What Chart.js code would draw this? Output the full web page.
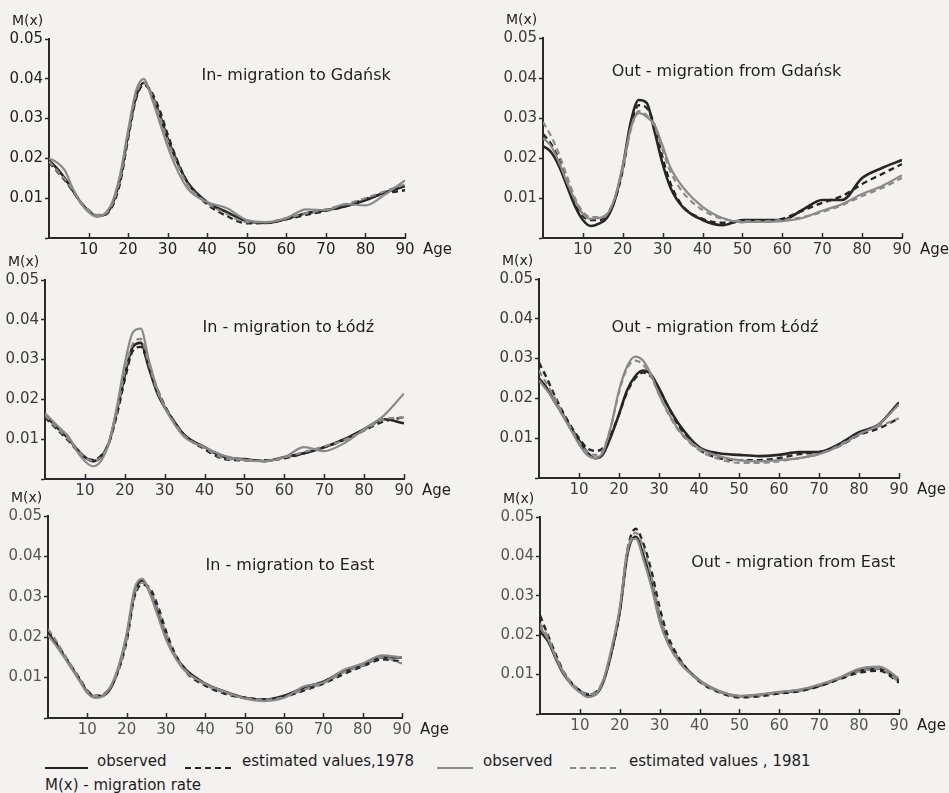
<!DOCTYPE html>
<html>
<head>
<meta charset="utf-8">
<script src="https://cdn.jsdelivr.net/npm/chart.js@4.4.1/dist/chart.umd.min.js"></script>
<style>
body { margin:0; width:949px; height:793px; background:#f3f2ee; overflow:hidden; position:relative; font-family:"DejaVu Sans", sans-serif; color:#1e1e1e; }
canvas { position:absolute; }
.leg { position:absolute; font-size:15px; line-height:18px; white-space:nowrap; }
.ln { position:absolute; height:2px; }
</style>
</head>
<body>

<div class="ln" style="left:45px;top:767px;width:43px;background:#262626"></div>
<div class="leg" style="left:97px;top:752px">observed</div>
<div class="ln" style="left:185px;top:767px;width:50px;background:repeating-linear-gradient(90deg,#262626 0 6px,transparent 6px 10px)"></div>
<div class="leg" style="left:242px;top:752px">estimated values,1978</div>
<div class="ln" style="left:437px;top:767px;width:36px;background:#8a8a8a"></div>
<div class="leg" style="left:483px;top:752px">observed</div>
<div class="ln" style="left:570px;top:767px;width:48px;background:repeating-linear-gradient(90deg,#8a8a8a 0 6px,transparent 6px 10px)"></div>
<div class="leg" style="left:629px;top:752px">estimated values , 1981</div>
<div class="leg" style="left:45px;top:776px">M(x) - migration rate</div>

<script>
// age groups (x) shared by all panels
const ages = [0, 2, 4, 6, 8, 10, 12, 14, 16, 18, 20, 22, 24, 26, 28, 30, 32, 35, 40, 45, 50, 55, 60, 65, 70, 75, 80, 85, 90];
const xTicks = [10, 20, 30, 40, 50, 60, 70, 80, 90];
const yTicks = [0.01, 0.02, 0.03, 0.04, 0.05];
const seriesNames = ["observed 1978", "estimated values 1978", "observed 1981", "estimated values 1981"];

// In-migration to Gdańsk
const gdInObs78 = [0.0195,0.0175,0.0150,0.0120,0.0090,0.0068,0.0055,0.0058,0.0085,0.0150,0.0260,0.0355,0.0390,0.0360,0.0310,0.0250,0.0200,0.0140,0.0090,0.0065,0.0042,0.0038,0.0048,0.0062,0.0070,0.0080,0.0095,0.0115,0.0130];
const gdInEst78 = [0.0190,0.0168,0.0145,0.0118,0.0090,0.0070,0.0057,0.0058,0.0080,0.0140,0.0250,0.0350,0.0385,0.0365,0.0320,0.0260,0.0205,0.0140,0.0085,0.0055,0.0037,0.0038,0.0047,0.0058,0.0068,0.0080,0.0098,0.0112,0.0120];
const gdInObs81 = [0.0200,0.0190,0.0170,0.0125,0.0088,0.0065,0.0054,0.0060,0.0090,0.0160,0.0270,0.0370,0.0400,0.0350,0.0290,0.0230,0.0180,0.0125,0.0090,0.0075,0.0045,0.0040,0.0050,0.0072,0.0070,0.0085,0.0082,0.0110,0.0145];
const gdInEst81 = [0.0192,0.0170,0.0148,0.0120,0.0092,0.0070,0.0058,0.0060,0.0085,0.0150,0.0260,0.0360,0.0390,0.0360,0.0305,0.0245,0.0195,0.0135,0.0088,0.0060,0.0040,0.0040,0.0050,0.0062,0.0072,0.0085,0.0100,0.0118,0.0135];

// Out-migration from Gdańsk
const gdOutObs78 = [0.0230,0.0215,0.0180,0.0130,0.0080,0.0045,0.0030,0.0036,0.0050,0.0094,0.0178,0.0290,0.0345,0.0338,0.0265,0.0185,0.0125,0.0078,0.0045,0.0032,0.0045,0.0045,0.0045,0.0070,0.0095,0.0095,0.0150,0.0175,0.0195];
const gdOutEst78 = [0.0260,0.0235,0.0195,0.0140,0.0090,0.0055,0.0045,0.0045,0.0055,0.0095,0.0170,0.0280,0.0332,0.0325,0.0280,0.0200,0.0135,0.0080,0.0048,0.0038,0.0040,0.0042,0.0048,0.0068,0.0088,0.0105,0.0135,0.0160,0.0185];
const gdOutObs81 = [0.0250,0.0230,0.0190,0.0140,0.0095,0.0060,0.0048,0.0050,0.0058,0.0100,0.0180,0.0275,0.0312,0.0303,0.0282,0.0230,0.0175,0.0128,0.0078,0.0050,0.0040,0.0040,0.0042,0.0050,0.0068,0.0085,0.0110,0.0130,0.0157];
const gdOutEst81 = [0.0290,0.0255,0.0210,0.0155,0.0100,0.0065,0.0052,0.0052,0.0060,0.0100,0.0175,0.0270,0.0317,0.0307,0.0278,0.0220,0.0165,0.0115,0.0070,0.0048,0.0042,0.0042,0.0045,0.0052,0.0065,0.0082,0.0105,0.0125,0.0150];

// In-migration to Łódź
const ldInObs78 = [0.0160,0.0140,0.0120,0.0100,0.0075,0.0055,0.0045,0.0055,0.0090,0.0170,0.0260,0.0332,0.0342,0.0280,0.0220,0.0180,0.0150,0.0110,0.0080,0.0055,0.0050,0.0045,0.0055,0.0065,0.0080,0.0100,0.0125,0.0150,0.0140];
const ldInEst78 = [0.0155,0.0135,0.0115,0.0095,0.0072,0.0055,0.0048,0.0058,0.0090,0.0160,0.0250,0.0322,0.0332,0.0285,0.0230,0.0185,0.0150,0.0110,0.0075,0.0050,0.0047,0.0047,0.0052,0.0065,0.0080,0.0098,0.0122,0.0145,0.0155];
const ldInObs81 = [0.0165,0.0145,0.0125,0.0105,0.0070,0.0045,0.0032,0.0045,0.0090,0.0180,0.0290,0.0368,0.0378,0.0300,0.0230,0.0180,0.0145,0.0105,0.0080,0.0058,0.0048,0.0045,0.0055,0.0080,0.0070,0.0090,0.0125,0.0160,0.0215];
const ldInEst81 = [0.0160,0.0138,0.0118,0.0098,0.0074,0.0055,0.0045,0.0055,0.0090,0.0170,0.0270,0.0340,0.0352,0.0290,0.0225,0.0182,0.0148,0.0108,0.0078,0.0052,0.0048,0.0046,0.0054,0.0068,0.0082,0.0098,0.0122,0.0150,0.0155];

// Out-migration from Łódź
const ldOutObs78 = [0.0250,0.0225,0.0190,0.0160,0.0125,0.0095,0.0065,0.0050,0.0060,0.0105,0.0160,0.0220,0.0255,0.0270,0.0260,0.0225,0.0185,0.0135,0.0078,0.0062,0.0058,0.0055,0.0058,0.0065,0.0065,0.0085,0.0115,0.0135,0.0190];
const ldOutEst78 = [0.0290,0.0250,0.0205,0.0165,0.0130,0.0100,0.0075,0.0068,0.0075,0.0110,0.0160,0.0215,0.0250,0.0265,0.0255,0.0225,0.0185,0.0130,0.0072,0.0050,0.0045,0.0045,0.0050,0.0060,0.0065,0.0080,0.0108,0.0125,0.0150];
const ldOutObs81 = [0.0245,0.0220,0.0190,0.0155,0.0120,0.0085,0.0058,0.0050,0.0065,0.0130,0.0220,0.0280,0.0305,0.0295,0.0260,0.0210,0.0170,0.0120,0.0075,0.0055,0.0045,0.0042,0.0045,0.0050,0.0060,0.0080,0.0110,0.0135,0.0185];
const ldOutEst81 = [0.0270,0.0235,0.0200,0.0160,0.0125,0.0090,0.0065,0.0058,0.0070,0.0130,0.0215,0.0275,0.0295,0.0285,0.0255,0.0210,0.0168,0.0118,0.0070,0.0048,0.0038,0.0038,0.0042,0.0050,0.0060,0.0082,0.0110,0.0130,0.0150];

// In-migration to East
const eaInObs78 = [0.0210,0.0185,0.0155,0.0125,0.0095,0.0065,0.0052,0.0055,0.0075,0.0125,0.0200,0.0310,0.0340,0.0310,0.0260,0.0200,0.0160,0.0120,0.0085,0.0065,0.0050,0.0045,0.0055,0.0075,0.0090,0.0115,0.0130,0.0150,0.0150];
const eaInEst78 = [0.0215,0.0188,0.0158,0.0128,0.0098,0.0068,0.0055,0.0058,0.0078,0.0120,0.0190,0.0300,0.0330,0.0320,0.0275,0.0215,0.0165,0.0115,0.0080,0.0060,0.0050,0.0046,0.0052,0.0068,0.0085,0.0108,0.0128,0.0145,0.0140];
const eaInObs81 = [0.0205,0.0180,0.0152,0.0122,0.0092,0.0062,0.0050,0.0055,0.0080,0.0130,0.0210,0.0320,0.0345,0.0305,0.0250,0.0195,0.0155,0.0115,0.0085,0.0065,0.0048,0.0042,0.0050,0.0078,0.0088,0.0118,0.0135,0.0155,0.0150];
const eaInEst81 = [0.0220,0.0192,0.0160,0.0128,0.0097,0.0066,0.0054,0.0057,0.0078,0.0122,0.0195,0.0305,0.0335,0.0315,0.0268,0.0210,0.0162,0.0118,0.0082,0.0062,0.0050,0.0045,0.0052,0.0070,0.0086,0.0112,0.0130,0.0150,0.0135];

// Out-migration from East
const eaOutObs78 = [0.0210,0.0185,0.0140,0.0100,0.0075,0.0058,0.0045,0.0050,0.0085,0.0160,0.0260,0.0410,0.0450,0.0400,0.0330,0.0240,0.0185,0.0135,0.0085,0.0057,0.0045,0.0048,0.0055,0.0060,0.0072,0.0090,0.0110,0.0115,0.0085];
const eaOutEst78 = [0.0250,0.0200,0.0150,0.0105,0.0078,0.0060,0.0050,0.0055,0.0088,0.0160,0.0260,0.0420,0.0470,0.0430,0.0360,0.0270,0.0200,0.0140,0.0082,0.0055,0.0042,0.0045,0.0052,0.0058,0.0070,0.0088,0.0105,0.0110,0.0080];
const eaOutObs81 = [0.0220,0.0190,0.0142,0.0102,0.0072,0.0055,0.0043,0.0050,0.0090,0.0170,0.0270,0.0420,0.0445,0.0390,0.0320,0.0235,0.0180,0.0130,0.0085,0.0058,0.0046,0.0050,0.0056,0.0062,0.0075,0.0092,0.0115,0.0120,0.0090];
const eaOutEst81 = [0.0230,0.0195,0.0145,0.0105,0.0078,0.0060,0.0050,0.0055,0.0088,0.0165,0.0265,0.0415,0.0460,0.0420,0.0345,0.0255,0.0190,0.0135,0.0083,0.0056,0.0044,0.0047,0.0054,0.0060,0.0073,0.0090,0.0108,0.0115,0.0082];

const DARK = "#262626";
const GRAY = "#8a8a8a";
const AXIS = "#2a2a2a";
const FONT = "DejaVu Sans";

// panel placement: axisX = pixel of age 0, top = pixel of 0.05, bottom = pixel of 0, right = pixel of age 90
const panels = [
  {title: "In- migration to Gdańsk", series: [gdInObs78, gdInEst78, gdInObs81, gdInEst81], axisX: 49, top: 39, bottom: 238, right: 405, tx: 62.5, ty: 0.0408, tick: "#1e1e1e"},
  {title: "Out - migration from Gdańsk", series: [gdOutObs78, gdOutEst78, gdOutObs81, gdOutEst81], axisX: 543, top: 38, bottom: 238, right: 902, tx: 46, ty: 0.0415, tick: "#3a3a3a"},
  {title: "In - migration to Łódź", series: [ldInObs78, ldInEst78, ldInObs81, ldInEst81], axisX: 45, top: 280, bottom: 479, right: 404, tx: 61, ty: 0.038, tick: "#3a3a3a"},
  {title: "Out - migration from Łódź", series: [ldOutObs78, ldOutEst78, ldOutObs81, ldOutEst81], axisX: 539, top: 279, bottom: 478, right: 899, tx: 44, ty: 0.0377, tick: "#3a3a3a"},
  {title: "In - migration to East", series: [eaInObs78, eaInEst78, eaInObs81, eaInEst81], axisX: 48, top: 516, bottom: 718, right: 402, tx: 61.5, ty: 0.0376, tick: "#555"},
  {title: "Out - migration from East", series: [eaOutObs78, eaOutEst78, eaOutObs81, eaOutEst81], axisX: 540, top: 517, bottom: 714, right: 899, tx: 63.5, ty: 0.0383, tick: "#555"}
];

const lineStyles = [
  {color: DARK, width: 2.6, dash: []},
  {color: DARK, width: 2.4, dash: [6, 4]},
  {color: GRAY, width: 2.2, dash: []},
  {color: GRAY, width: 2.2, dash: [6, 4]}
];

function makeChart(p) {
  const padTop = 36, padRight = 55, yW = 48, xH = 22;
  const w = yW + (p.right - p.axisX) + padRight;
  const h = padTop + (p.bottom - p.top) + xH;
  const cv = document.createElement("canvas");
  cv.width = w; cv.height = h;
  cv.style.left = (p.axisX - yW) + "px";
  cv.style.top = (p.top - padTop) + "px";
  cv.style.width = w + "px"; cv.style.height = h + "px";
  document.body.appendChild(cv);

  // gray (1981) drawn first, dark (1978) on top
  const datasets = [2, 3, 0, 1].map(i => ({
    label: seriesNames[i],
    data: ages.map((a, k) => ({x: a, y: p.series[i][k]})),
    borderColor: lineStyles[i].color,
    borderWidth: lineStyles[i].width,
    borderDash: lineStyles[i].dash,
    pointRadius: 0,
    fill: false,
    cubicInterpolationMode: "monotone"
  }));

  const extras = {
    id: "extras",
    afterDraw(chart) {
      const ctx = chart.ctx, xs = chart.scales.x, ys = chart.scales.y, a = chart.chartArea;
      ctx.save();
      ctx.strokeStyle = AXIS; ctx.lineWidth = 1.5;
      xTicks.forEach(v => {
        const px = Math.round(xs.getPixelForValue(v)) + 0.5;
        ctx.beginPath(); ctx.moveTo(px, a.bottom); ctx.lineTo(px, a.bottom - 5); ctx.stroke();
      });
      ctx.fillStyle = "#1e1e1e";
      ctx.font = "14px '" + FONT + "'";
      ctx.textAlign = "left"; ctx.textBaseline = "middle";
      ctx.fillText("M(x)", a.left - 37, a.top - 18);
      ctx.font = "15px '" + FONT + "'";
      ctx.fillText("Age", xs.getPixelForValue(90) + 18, a.bottom + 12);
      ctx.font = "16px '" + FONT + "'";
      ctx.textAlign = "center";
      ctx.fillText(p.title, xs.getPixelForValue(p.tx), ys.getPixelForValue(p.ty));
      ctx.restore();
    }
  };

  new Chart(cv, {
    type: "line",
    data: {datasets},
    options: {
      responsive: false,
      animation: false,
      devicePixelRatio: 1,
      layout: {padding: {left: 0, top: padTop, right: padRight, bottom: 0}},
      plugins: {legend: {display: false}, tooltip: {enabled: false}},
      scales: {
        x: {
          type: "linear", min: 0, max: 90,
          afterFit: s => { s.height = xH; },
          border: {color: AXIS, width: 2},
          grid: {drawOnChartArea: false, drawTicks: false},
          afterBuildTicks: s => { s.ticks = [0].concat(xTicks).map(v => ({value: v})); },
          ticks: {padding: 3, color: p.tick, font: {family: FONT, size: 15}, maxRotation: 0, autoSkip: false,
                  callback: v => v === 0 ? "" : String(v)}
        },
        y: {
          min: 0, max: 0.05,
          afterFit: s => { s.width = yW; },
          border: {color: AXIS, width: 2},
          grid: {drawOnChartArea: false, tickLength: 4, tickColor: AXIS, tickWidth: 1.5},
          afterBuildTicks: s => { s.ticks = [0].concat(yTicks).map(v => ({value: v})); },
          ticks: {padding: 2, color: p.tick, font: {family: FONT, size: 15},
                  callback: v => v === 0 ? "" : v.toFixed(2)}
        }
      }
    },
    plugins: [extras]
  });
}

panels.forEach(makeChart);
</script>
</body>
</html>
